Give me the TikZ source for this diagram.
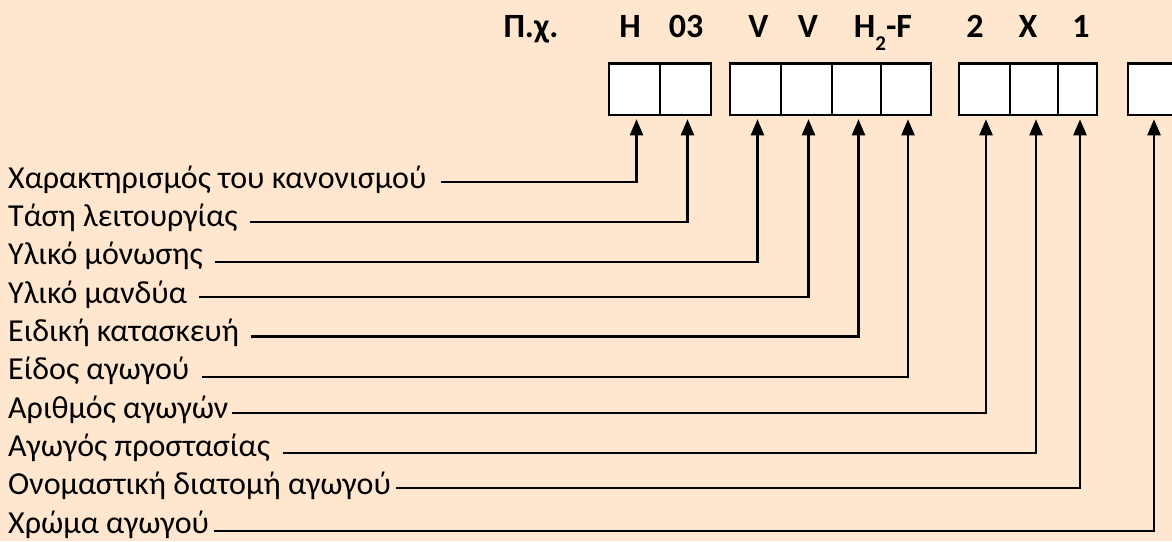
\documentclass[tikz,border=0pt]{standalone}
\usepackage{fontspec}
\setmainfont{Carlito}
\usetikzlibrary{arrows.meta}
\definecolor{bg}{RGB}{255,230,207}
\begin{document}
\begin{tikzpicture}[x=1pt,y=-1pt,
  cell/.style={draw, line width=2.5pt, fill=white, minimum height=51.5pt, inner sep=0pt},
  lbl/.style={anchor=base west, inner sep=0pt, font=\fontsize{32}{38}\selectfont},
  hd/.style={anchor=base, inner sep=0pt, font=\fontsize{34}{38}\selectfont\bfseries},
  conn/.style={line width=2.2pt, -{Triangle[width=13pt,length=16pt]}, shorten >=3pt}]
\fill[bg] (0,0) rectangle (1172,541);
\useasboundingbox (0,0) rectangle (1172,541);
% heading
\node[hd] (h0) at (531,37) {Π.χ.};
\node[hd] (h1) at (630,37) {H};
\node[hd] (h2) at (686,37) {03};
\node[hd] (h3) at (758.5,37) {V};
\node[hd] (h4) at (808,37) {V};
\node[hd] (h5) at (883,37) {H\raisebox{-13pt}{\fontsize{21}{21}\selectfont 2}-F};
\node[hd] (h6) at (975,37) {2};
\node[hd] (h7) at (1028,37) {X};
\node[hd] (h8) at (1081,37) {1};
% boxes
\node[cell, minimum width=51pt] (b1) at (634.5,89.25) {};
\node[cell, minimum width=51pt] (b2) at (685.5,89.25) {};
\node[cell, minimum width=51pt] (b3) at (755.5,89.25) {};
\node[cell, minimum width=51pt] (b4) at (806.5,89.25) {};
\node[cell, minimum width=49pt] (b5) at (856.5,89.25) {};
\node[cell, minimum width=50pt] (b6) at (906,89.25) {};
\node[cell, minimum width=51pt] (b7) at (984.5,89.25) {};
\node[cell, minimum width=48pt] (b8) at (1034,89.25) {};
\node[cell, minimum width=39pt] (b9) at (1077.5,89.25) {};
\node[cell, minimum width=52pt] (b10) at (1154,89.25) {};
% labels and connectors
\foreach \i/\txt/\ly/\g/\bx/\ax in {
  1/{Χαρακτηρισμός του κανονισμού}/182/14/b1/2,
  2/{Τάση λειτουργίας}/221.7/12/b2/2,
  3/{Υλικό μόνωσης}/261.7/12/b3/2,
  4/{Υλικό μανδύα}/297.3/12/b4/2,
  5/{Ειδική κατασκευή}/336.5/12/b5/2,
  6/{Είδος αγωγού}/376.7/12/b6/2,
  7/{Αριθμός αγωγών}/412.7/3/b7/1.5,
  8/{Αγωγός προστασίας}/452.7/13/b8/2,
  9/{Ονομαστική διατομή αγωγού}/488.3/5/b9/2.5,
  10/{Χρώμα αγωγού}/530.7/5/b10/0}{
  \pgfmathsetmacro\by{188+38.37*(\i-1)}
  \pgfmathsetmacro\dy{\by-\ly}
  \node[lbl] (t\i) at (8,\by) {\txt};
  \draw[conn] ([xshift=\g pt,yshift=\dy pt]t\i.base east) -| ([xshift=\ax pt]\bx.south);
}
\end{tikzpicture}
\end{document}
